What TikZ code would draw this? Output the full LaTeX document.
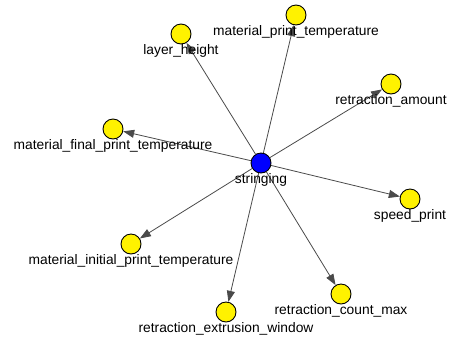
\documentclass[tikz,border=0pt]{standalone}
\usepackage{fontspec}
\setmainfont{Liberation Sans}
\usetikzlibrary{arrows.meta}
\definecolor{edgegray}{HTML}{4A4A4A}

\begin{document}
\begin{tikzpicture}[x=1pt,y=-1pt,
	vertex/.style={circle,draw=black,line width=0.9pt,fill=yellow,minimum size=20pt,inner sep=0pt},
	hub/.style={vertex,fill=blue},
	lbl/.style={anchor=base,inner sep=0pt,font=\fontsize{13.8}{16}\selectfont},
	edge/.style={draw=edgegray,line width=0.8pt,-{Triangle[length=11pt,width=8pt]}}]
	\useasboundingbox (0,0) rectangle (449,341);

	\node [hub] (s) at (261,163) {};
	\foreach \n/\x/\y in {lh/181/34, mpt/296/15, ra/391/84, mfpt/113/129, sp/410/199,
		mipt/131/244, rew/226/312, rcm/341/294}
		{\node [vertex] (\n) at (\x,\y) {};
		 \draw [edge] (s) -- (\n);}

	% names below the circles
	\foreach \n/\t in {s/stringing, lh/layer\_height, mpt/material\_print\_temperature,
		ra/retraction\_amount, mfpt/material\_final\_print\_temperature, sp/speed\_print,
		mipt/material\_initial\_print\_temperature, rew/retraction\_extrusion\_window,
		rcm/retraction\_count\_max}
		\node [lbl] (\n-t) at ([yshift=-20pt]\n.center) {\t};
\end{tikzpicture}
\end{document}
